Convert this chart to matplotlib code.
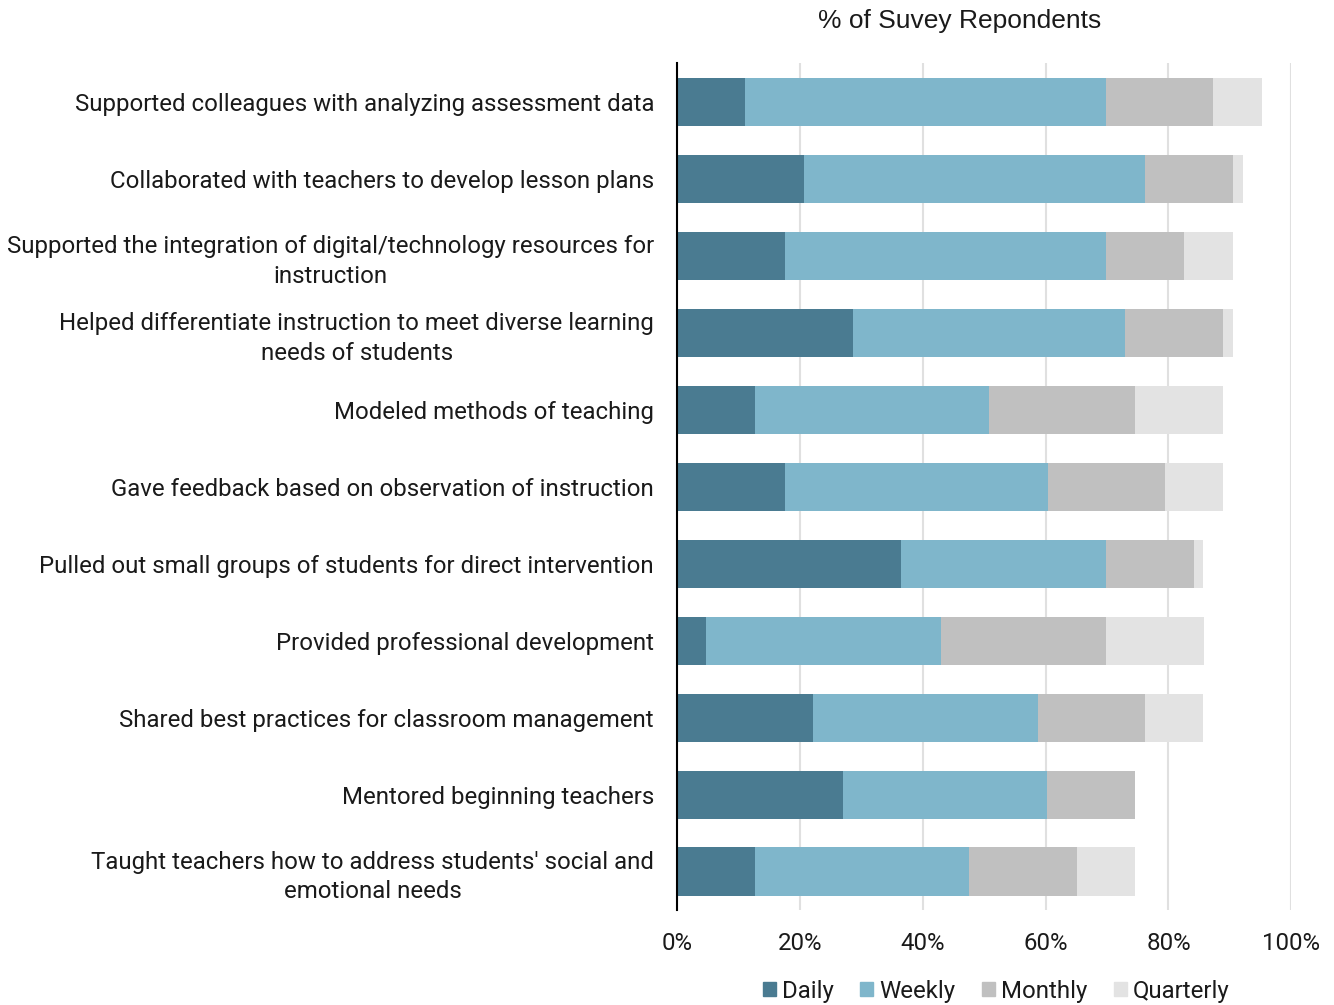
import numpy as np
import matplotlib
matplotlib.use("Agg")
import matplotlib.pyplot as plt
import matplotlib.transforms as mtransforms
from matplotlib.patches import Patch

plt.rcParams['font.family'] = ['Roboto', 'DejaVu Sans']

# Survey data (% of respondents)
activities = [
    "Supported colleagues with analyzing assessment data",
    "Collaborated with teachers to develop lesson plans",
    "Supported the integration of digital/technology resources for\ninstruction",
    "Helped differentiate instruction to meet diverse learning\nneeds of students",
    "Modeled methods of teaching",
    "Gave feedback based on observation of instruction",
    "Pulled out small groups of students for direct intervention",
    "Provided professional development",
    "Shared best practices for classroom management",
    "Mentored beginning teachers",
    "Taught teachers how to address students' social and\nemotional needs",
]
daily = [11.1, 20.6, 17.5, 28.6, 12.7, 17.5, 36.5, 4.8, 22.2, 27.0, 12.7]
weekly = [58.7, 55.6, 52.4, 44.4, 38.1, 42.9, 33.3, 38.1, 36.5, 33.3, 34.9]
monthly = [17.5, 14.3, 12.7, 15.9, 23.8, 19.0, 14.3, 27.0, 17.5, 14.3, 17.5]
quarterly = [7.9, 1.6, 7.9, 1.6, 14.3, 9.5, 1.6, 15.9, 9.5, 0.0, 9.5]

series = [("Daily", daily, "#4a7b91"),
          ("Weekly", weekly, "#7fb6cb"),
          ("Monthly", monthly, "#c0c0c0"),
          ("Quarterly", quarterly, "#e3e3e3")]

TEXT = "#1a1a1a"
FS = 17.25

fig = plt.figure(figsize=(13.34, 10.05), dpi=100)
ax = fig.add_axes([0.5075, 0.0945, 0.4605, 0.8425])

y = np.arange(len(activities))
left = np.zeros(len(activities))
for name, vals, color in series:
    ax.barh(y, vals, left=left, height=0.625, color=color, label=name, zorder=3)
    left += np.array(vals)

ax.set_ylim(10.5, -0.5)
ax.set_xlim(0, 100)
ax.set_yticks(y)
ax.set_yticklabels(activities, fontsize=FS, ha="right", multialignment="center",
                   linespacing=1.35)
# nudge category labels up a touch
shift = mtransforms.ScaledTranslation(0, 3 / 100, fig.dpi_scale_trans)
for lbl in ax.get_yticklabels():
    lbl.set_transform(lbl.get_transform() + shift)
ax.set_xticks(np.arange(0, 101, 20))
ax.set_xticklabels([f"{v}%" for v in range(0, 101, 20)], fontsize=FS)
ax.tick_params(axis="both", length=0, colors=TEXT)
ax.tick_params(axis="y", pad=16.5)
ax.tick_params(axis="x", pad=16)
ax.xaxis.grid(True, color="#e0e0e0", linewidth=1.5, zorder=0)
for s in ["top", "right", "bottom"]:
    ax.spines[s].set_visible(False)
ax.spines["left"].set_color("black")
ax.spines["left"].set_linewidth(1.5)
ax.spines["left"].set_zorder(4)

fig.text(960 / 1334, 1 - 21 / 1005, "% of Suvey Repondents", fontsize=19,
         family=['Liberation Sans', 'DejaVu Sans'],
         ha="center", va="center", color=TEXT)

handles = [Patch(color=c, label=n) for n, _, c in series]
leg = fig.legend(handles=handles, loc="center", bbox_to_anchor=(996 / 1334, 1 - 991 / 1005),
                 ncol=4, frameon=False, fontsize=FS, handlelength=0.55, handleheight=0.55,
                 handletextpad=0.25, columnspacing=1.1, borderaxespad=0)
for t in leg.get_texts():
    t.set_color(TEXT)

fig.savefig("out.png", dpi=100)
